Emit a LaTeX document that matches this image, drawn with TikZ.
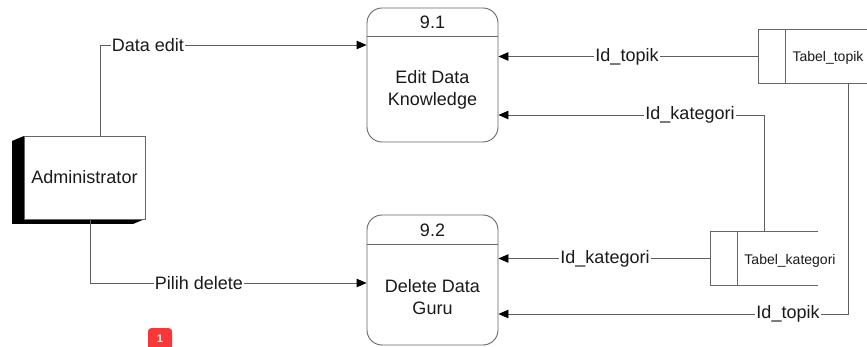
\documentclass[tikz,border=0pt]{standalone}
\usepackage{fontspec}
\setmainfont{Liberation Sans}
\usetikzlibrary{arrows.meta}
\definecolor{linegray}{HTML}{5E5E5E}
\definecolor{boxgray}{HTML}{666666}
\definecolor{txt}{HTML}{1A1A1A}
\definecolor{badgered}{HTML}{F83838}
\tikzset{
  flow/.style={draw=linegray, line width=0.9pt, -{Triangle[length=10pt,width=8.5pt,fill=black,color=black]}},
  proc/.style={draw=boxgray, line width=0.9pt, rounded corners=15pt, minimum width=131pt, fill=white},
  lbl/.style={font=\fontsize{18}{21}\selectfont, text=txt, fill=white, inner sep=1pt},
  btxt/.style={font=\fontsize{18}{22}\selectfont, text=txt, align=center, inner sep=0pt},
  stxt/.style={font=\fontsize{14}{16}\selectfont, text=txt, inner sep=0pt},
  storeline/.style={draw=boxgray, line width=0.9pt},
}
\begin{document}
\begin{tikzpicture}[x=1pt,y=-1pt]
\useasboundingbox[fill=white] (0,0) rectangle (867,347);

% Administrator external entity with 3D shadow
\fill[black] (24,136) -- (12,141) -- (12,224) -- (133,224) -- (145,219) -- (24,219) -- cycle;
\node[draw=boxgray, line width=0.8pt, fill=white, minimum width=121pt, minimum height=83pt, inner sep=0pt,
      font=\fontsize{18}{21}\selectfont, text=txt] (admin) at (84.5,177.5) {Administrator};

% Process 9.1
\node[proc, minimum height=134pt] (p1) at (432.5,75) {};
\draw[draw=boxgray, line width=0.9pt] ([yshift=-29pt]p1.north west) -- ([yshift=-29pt]p1.north east);
\node[btxt] (p1n) at (432.5,22) {9.1};
\node[btxt] (p1t) at (432.5,90) {Edit Data\\Knowledge};

% Process 9.2
\node[proc, minimum height=130pt] (p2) at (432.5,280) {};
\draw[draw=boxgray, line width=0.9pt] ([yshift=-30pt]p2.north west) -- ([yshift=-30pt]p2.north east);
\node[btxt] (p2n) at (432.5,230) {9.2};
\node[btxt] (p2t) at (432.5,297) {Delete Data\\Guru};

% Data store Tabel_topik
\node[minimum width=108pt, minimum height=53pt, inner sep=0pt] (ts) at (813,56.5) {};
\draw[storeline] (ts.north east) -- (ts.north west) -- (ts.south west) -- (ts.south east);
\draw[storeline] ([xshift=27pt]ts.north west) -- ([xshift=27pt]ts.south west);
\node[stxt] (tst) at (828,58) {Tabel\_topik};

% Data store Tabel_kategori
\node[minimum width=107pt, minimum height=53pt, inner sep=0pt] (ks) at (764.5,258.5) {};
\draw[storeline] (ks.north east) -- (ks.north west) -- (ks.south west) -- (ks.south east);
\draw[storeline] ([xshift=27pt]ks.north west) -- ([xshift=27pt]ks.south west);
\node[stxt] (kst) at (790,261) {Tabel\_kategori};

% Flows
\draw[flow] ([xshift=15.5pt]admin.north) |- ([yshift=30pt]p1.west);
\draw[flow] ([xshift=5.5pt]admin.south) |- ([yshift=-3pt]p2.west);
\draw[flow] (ts.west) -- (p1.east |- ts.west);
\draw[flow] (ks.north) |- ([yshift=-40pt]p1.east);
\draw[flow] (ks.west) -- (p2.east |- ks.west);
\draw[flow] ([xshift=35pt]ts.south) |- ([yshift=-34pt]p2.east);

% Flow labels
\node[lbl] (l1) at (148,45) {Data edit};
\node[lbl] (l2) at (199,283) {Pilih delete};
\node[lbl] (l3) at (627,57) {Id\_topik};
\node[lbl] (l4) at (690,115) {Id\_kategori};
\node[lbl] (l5) at (605,259) {Id\_kategori};
\node[lbl] (l6) at (788,314) {Id\_topik};

% Red badge
\node[fill=badgered, rounded corners=3pt, minimum width=24pt, minimum height=30pt, inner sep=0pt,
      anchor=north] (badge) at (160,328) {};
\node[text=white, font=\fontsize{11}{13}\selectfont\bfseries, inner sep=0pt, anchor=north] (badget) at (160,334.5) {1};
\end{tikzpicture}
\end{document}
